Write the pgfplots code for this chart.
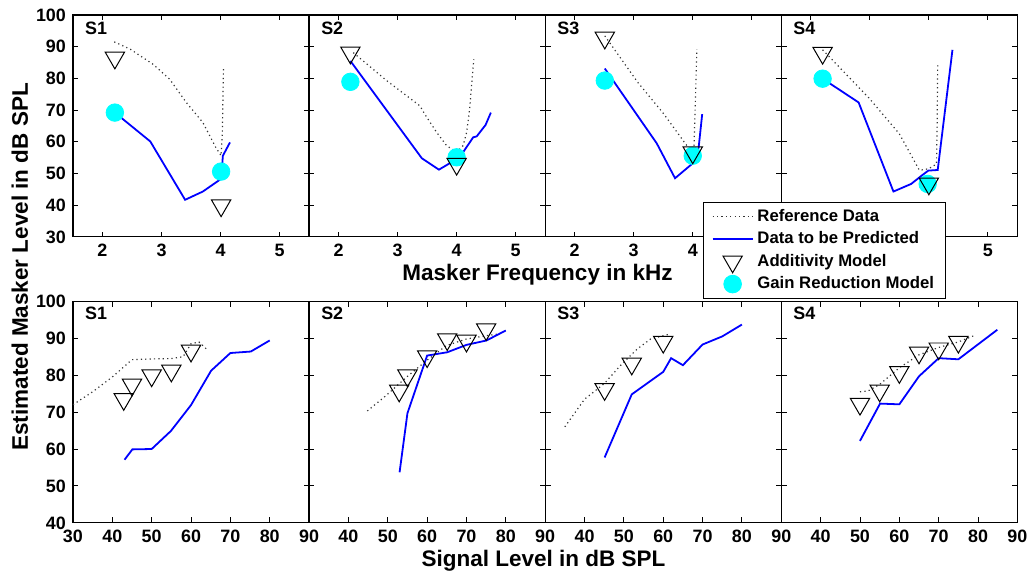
\documentclass[border=0pt]{standalone}
\usepackage{fontspec}
\setmainfont{Liberation Sans}
\usepackage{pgfplots}
\pgfplotsset{compat=1.18}
\definecolor{gaincyan}{RGB}{0,255,255}

% 1 px of the reference = 0.5pt
\pgfplotsset{
  panel/.style={scale only axis, width=118.6pt, anchor=north west,
    axis line style={line width=0.6pt}, every tick/.style={black, line width=0.5pt},
    major tick length=2.7pt, tick align=inside,
    tick label style={font=\fontsize{9}{10}\selectfont\bfseries},
    /pgf/number format/assume math mode=true},
  toprow/.style={panel, height=111.5pt, xmin=1.5, xmax=5.5, ymin=30, ymax=100,
    xtick={2,3,4,5}, ytick={30,40,...,100}},
  botrow/.style={panel, height=111.3pt, xmin=30, xmax=90, ymin=40, ymax=100,
    xtick={30,40,...,90}, ytick={40,50,...,100}},
  notl/.style={yticklabels={}},
}
\tikzset{
  refl/.style={black!80, line width=0.6pt, dash pattern=on 0.6pt off 1.6pt},
  datl/.style={blue, line width=0.9pt},
  addm/.style={black, only marks, mark=triangle, mark size=5.6pt,
    mark options={rotate=180, fill=none, line width=0.5pt}},
  gainm/.style={gaincyan, only marks, mark=*, mark size=4.4pt, mark options={draw=gaincyan, fill=gaincyan}},
  slabel/.style={font=\fontsize{9}{10}\selectfont\bfseries, anchor=north west, inner sep=0pt},
  biglabel/.style={font=\fontsize{11.3}{13}\selectfont\bfseries},
}

\begin{document}
\begin{tikzpicture}
\path (0,0) rectangle (517pt,-289pt);

% ---------- top row: masker frequency ----------
\begin{axis}[toprow, at={(36.65pt,-7.5pt)}]
  \addplot[refl] coordinates {(2.2,91.5)(2.47,89.2)(2.86,84.4)(3.14,79.7)(3.42,72.4)(3.7,66.1)(3.92,58.2)(4.01,55.6)(4.03,62)(4.05,83.4)};
  \addplot[datl] coordinates {(2.21,69.2)(2.81,60.1)(3.4,41.7)(3.7,44.3)(4.01,48.3)(4.04,55.6)(4.16,59.8)};
  \addplot[gainm] coordinates {(2.21,69.2)(4.01,50.6)};
  \addplot[addm] coordinates {(2.21,86.5)(4.01,39.9)};
  \node[slabel] at (rel axis cs:0.05,0.97) {S1};
\end{axis}

\begin{axis}[toprow, notl, at={(155.25pt,-7.5pt)}]
  \addplot[refl] coordinates {(2.25,88.1)(2.82,79.2)(3.38,71.3)(3.46,68.7)(3.66,63)(3.83,58.8)(4.0,56.7)(4.11,58.8)(4.17,63)(4.22,70.3)(4.29,86)};
  \addplot[datl] coordinates {(2.2,85.5)(3.41,54.8)(3.7,51.2)(3.89,53.3)(4.11,56.7)(4.28,61.4)(4.34,61.7)(4.49,65.3)(4.58,69.2)};
  \addplot[gainm] coordinates {(2.2,78.9)(4.0,55.1)};
  \addplot[addm] coordinates {(2.2,88.1)(4.0,53.0)};
  \node[slabel] at (rel axis cs:0.05,0.97) {S2};
\end{axis}

\begin{axis}[toprow, notl, at={(273.85pt,-7.5pt)}]
  \addplot[refl] coordinates {(2.51,93.4)(3.07,78.7)(3.5,69)(3.95,57.5)(4.02,58)(4.04,70)(4.07,89.2)};
  \addplot[datl] coordinates {(2.51,83.1)(3.39,59.5)(3.7,48.5)(4.0,53.2)(4.1,58.2)(4.16,68.7)};
  \addplot[gainm] coordinates {(2.51,79.3)(4.0,55.6)};
  \addplot[addm] coordinates {(2.51,92.8)(4.0,56.6)};
  \node[slabel] at (rel axis cs:0.05,0.97) {S3};
\end{axis}

% the legend hides the tick labels 2, 3 and 4 of this panel
\begin{axis}[toprow, notl, at={(392.45pt,-7.5pt)}, xticklabels={,,,5},
  legend style={at={(-0.33,0.156)}, anchor=north west, draw=black, line width=0.5pt,
    fill=white, font=\fontsize{8.4}{9}\selectfont\bfseries, cells={anchor=west},
    row sep=-0.3pt, inner xsep=4pt, inner ysep=1.2pt},
  legend image code/.code={\draw[mark repeat=2,mark phase=2,#1] plot coordinates {(0pt,0pt) (10pt,0pt) (20pt,0pt)};}]
  \addlegendimage{refl}
  \addlegendimage{datl}
  \addlegendimage{addm}
  \addlegendimage{gainm}
  \addplot[refl, forget plot] coordinates {(2.2,89)(3.0,73.5)(3.5,62.5)(3.84,51)(4.0,51.5)(4.13,53)(4.14,65)(4.15,85)};
  \addplot[datl, forget plot] coordinates {(2.2,79.9)(2.81,72.4)(3.4,44.3)(3.7,46.7)(3.89,49.5)(3.99,50.9)(4.15,51.1)(4.4,89)};
  \addplot[gainm, forget plot] coordinates {(2.2,79.9)(3.98,46.7)};
  \addplot[addm, forget plot] coordinates {(2.2,88)(4.0,46.8)};
  \node[slabel] at (rel axis cs:0.05,0.97) {S4};
  \legend{Reference Data, Data to be Predicted, Additivity Model, Gain Reduction Model}
\end{axis}

% ---------- bottom row: signal level ----------
\begin{axis}[botrow, at={(36.65pt,-151.35pt)}]
  \addplot[refl] coordinates {(30,72)(35,75.5)(40,79.5)(45,84.2)(50,84.4)(55,84.5)(58,85)(60,88.5)(62,89)(64,87)};
  \addplot[datl] coordinates {(43.1,57.1)(45.1,59.9)(50,60)(54.9,64.9)(60,71.9)(65.1,81.2)(70,86)(75.2,86.4)(80,89.4)};
  \addplot[addm] coordinates {(42.9,73.5)(45,77.4)(50,79.9)(55,81.2)(60,86.6)};
  \node[slabel] at (rel axis cs:0.05,0.975) {S1};
\end{axis}

\begin{axis}[botrow, notl, at={(155.25pt,-151.35pt)}, xticklabels={,40,50,60,70,80,90}]
  \addplot[refl] coordinates {(44.8,70.3)(49.7,74.6)(54.8,79.5)(59.9,84)(64.9,88)(70,89.8)(75.1,90.7)(78.5,91.2)};
  \addplot[datl] coordinates {(53,53.7)(55,69.7)(60,85.3)(65.1,86.2)(70,88.2)(75.1,89.4)(80,92.1)};
  \addplot[addm] coordinates {(52.9,75.8)(55,79.9)(60,85.1)(65.1,89.7)(70,89.3)(75,92.4)};
  \node[slabel] at (rel axis cs:0.05,0.975) {S2};
\end{axis}

\begin{axis}[botrow, notl, at={(273.85pt,-151.35pt)}, xticklabels={,40,50,60,70,80,90}]
  \addplot[refl] coordinates {(35,66)(40,73.5)(45,77.7)(49.2,82.7)(53.4,87.1)(56.8,89.8)(61.9,91.2)};
  \addplot[datl] coordinates {(45.1,57.7)(52,74.8)(60,80.9)(62,84.6)(65,82.7)(70,88.3)(75,90.5)(80,93.7)};
  \addplot[addm] coordinates {(45.1,76.2)(52,83.1)(60,89)};
  \node[slabel] at (rel axis cs:0.05,0.975) {S3};
\end{axis}

\begin{axis}[botrow, notl, at={(392.45pt,-151.35pt)}, xticklabels={,40,50,60,70,80,90}]
  \addplot[refl] coordinates {(50,75.5)(52,75.7)(55,77.5)(60,82)(65,85.5)(70,87.5)(75,89)(79,90.7)};
  \addplot[datl] coordinates {(50,62.2)(55.1,72.3)(60,72.1)(65,79.7)(70,84.6)(75,84.3)(84.9,92.3)};
  \addplot[addm] coordinates {(50,72.2)(55,75.8)(60,80.8)(65,86.1)(70,87.2)(75,89)};
  \node[slabel] at (rel axis cs:0.05,0.975) {S4};
\end{axis}

% ---------- shared labels ----------
\node[rotate=90, biglabel] at (10pt,-134pt) {Estimated Masker Level in dB SPL};
\node[biglabel] at (270pt,-138pt) {Masker Frequency in kHz};
\node[biglabel] at (273pt,-281.5pt) {Signal Level in dB SPL};
\end{tikzpicture}
\end{document}
